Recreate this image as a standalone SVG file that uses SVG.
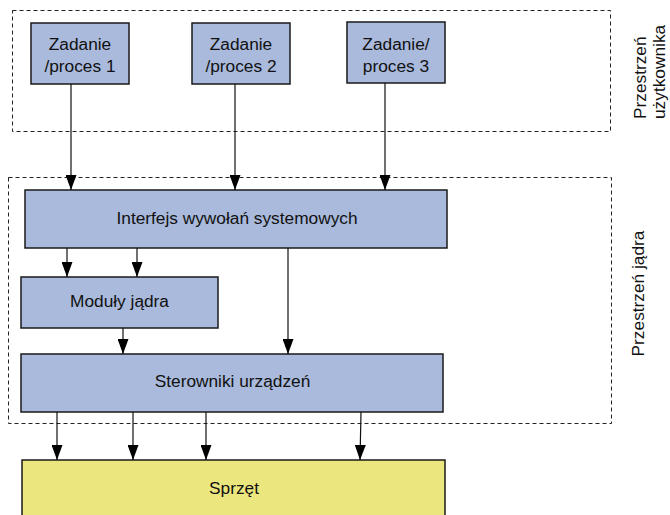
<svg xmlns="http://www.w3.org/2000/svg" width="670" height="515" viewBox="0 0 670 515">
<style>
.box{fill:#a9badc;stroke:#1a1a1a;stroke-width:1.5}
.hw{fill:#ece67e;stroke:#1a1a1a;stroke-width:1.5}
.zone{fill:none;stroke:#222;stroke-width:1;stroke-dasharray:4,3}
.t{font-family:"Liberation Sans",Arial,sans-serif;font-size:17.3px;fill:#111;text-anchor:middle}
.lbl{font-family:"Liberation Sans",Arial,sans-serif;font-size:17.3px;fill:#111}
.c{stroke:#111;stroke-width:1.2;fill:none;marker-end:url(#ah)}
</style>
<defs>
<marker id="ah" markerUnits="userSpaceOnUse" markerWidth="15" markerHeight="11" refX="15" refY="5.5" orient="auto" viewBox="0 0 15 11">
<path d="M0,0 L15,5.5 L0,11 Z" fill="#000"/>
</marker>
</defs>
<rect width="670" height="515" fill="#fff"/>
<g id="user-space">
<rect class="zone" x="12.5" y="10.5" width="598" height="121"/>
<text class="lbl" transform="translate(646,119) rotate(-90)">Przestrzeń</text>
<text class="lbl" transform="translate(665,119) rotate(-90)">użytkownika</text>
</g>
<g id="kernel-space">
<rect class="zone" x="8.5" y="177.5" width="603" height="246"/>
<text class="t" transform="translate(644,293.5) rotate(-90)">Przestrzeń jądra</text>
</g>
<g id="task1">
<rect class="box" x="31" y="23" width="98" height="61"/>
<text class="t" x="80" y="50">Zadanie</text>
<text class="t" x="80" y="72">/proces 1</text>
</g>
<g id="task2">
<rect class="box" x="192" y="23" width="98" height="61"/>
<text class="t" x="241" y="50">Zadanie</text>
<text class="t" x="241" y="72">/proces 2</text>
</g>
<g id="task3">
<rect class="box" x="347" y="22" width="98" height="61"/>
<text class="t" x="396" y="50">Zadanie/</text>
<text class="t" x="396" y="72">proces 3</text>
</g>
<g id="syscall">
<rect class="box" x="25" y="190" width="422" height="58"/>
<text class="t" x="237" y="224">Interfejs wywołań systemowych</text>
</g>
<g id="modules">
<rect class="box" x="21" y="277" width="197" height="51"/>
<text class="t" x="119.5" y="307">Moduły jądra</text>
</g>
<g id="drivers">
<rect class="box" x="21" y="354" width="422" height="58"/>
<text class="t" x="232.5" y="387">Sterowniki urządzeń</text>
</g>
<g id="hardware">
<rect class="hw" x="22" y="460" width="423" height="70"/>
<text class="t" x="234" y="494">Sprzęt</text>
</g>
<g id="connectors">
<line class="c" x1="71" y1="84" x2="71" y2="190"/>
<line class="c" x1="235" y1="84" x2="235" y2="190"/>
<line class="c" x1="385" y1="83" x2="385" y2="190"/>
<line class="c" x1="67" y1="248" x2="67" y2="277"/>
<line class="c" x1="137" y1="248" x2="137" y2="277"/>
<line class="c" x1="288" y1="248" x2="288" y2="354"/>
<line class="c" x1="123" y1="328" x2="123" y2="354"/>
<line class="c" x1="57" y1="412" x2="57" y2="460"/>
<line class="c" x1="133" y1="412" x2="133" y2="460"/>
<line class="c" x1="206" y1="412" x2="206" y2="460"/>
<line class="c" x1="361" y1="412" x2="360" y2="460"/>
</g>
</svg>
